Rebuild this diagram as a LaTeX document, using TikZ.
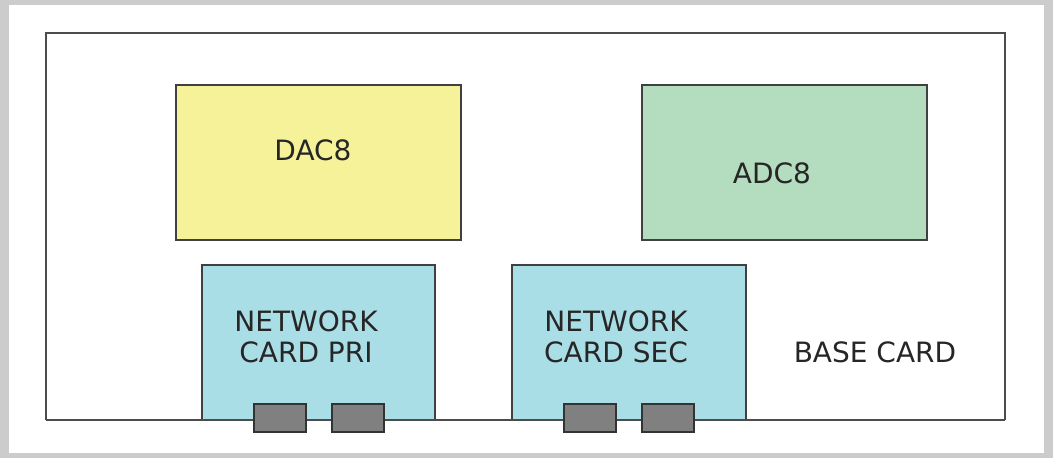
\documentclass[tikz,border=0pt]{standalone}
\usepackage{fontspec}
\setmainfont{DejaVu Sans}
\begin{document}
\begin{tikzpicture}[x=1pt,y=-1pt,
  card/.style={draw=black!75, line width=2.5pt},
  conn/.style={draw=black!80, fill=black!50, line width=2.5pt},
  lbl/.style={font=\fontsize{28}{31}\selectfont, text=black!85, align=center, inner sep=0pt}]
\useasboundingbox (0,0) rectangle (1053,458);
\fill[black!20] (0,0) rectangle (1053,458);
\fill[white] (9,5) rectangle (1044,453);
% base card
\coordinate (bl) at (46,420);
\coordinate (tl) at (46,33);
\coordinate (tr) at (1005,33);
\coordinate (br) at (1005,420);
\draw[black!70, line width=2.5pt] (bl) -- (tl) -- (tr) -- (br);
% DAC8 / ADC8
\filldraw[card, fill={rgb,255:red,246;green,242;blue,154}] (176,85) rectangle (461,240);
\node[lbl] (dac) at (313,150) {DAC8};
\filldraw[card, fill={rgb,255:red,180;green,220;blue,190}] (642,85) rectangle (927,240);
\node[lbl] (adc) at (772,173) {ADC8};
% network cards
\filldraw[card, fill={rgb,255:red,170;green,222;blue,230}] (202,420) -- (202,265) -- (435,265) -- (435,420);
\node[lbl] (pri) at (306,337) {NETWORK\\CARD PRI};
\filldraw[card, fill={rgb,255:red,170;green,222;blue,230}] (512,420) -- (512,265) -- (746,265) -- (746,420);
\node[lbl] (sec) at (616,337) {NETWORK\\CARD SEC};
\node[lbl] (base) at (875,352) {BASE CARD};
\draw[black!70, line width=2.5pt] (bl) -- (br);
% connectors
\filldraw[conn] (254,404) rectangle (306,432);
\filldraw[conn] (332,404) rectangle (384,432);
\filldraw[conn] (564,404) rectangle (616,432);
\filldraw[conn] (642,404) rectangle (694,432);
\end{tikzpicture}
\end{document}
